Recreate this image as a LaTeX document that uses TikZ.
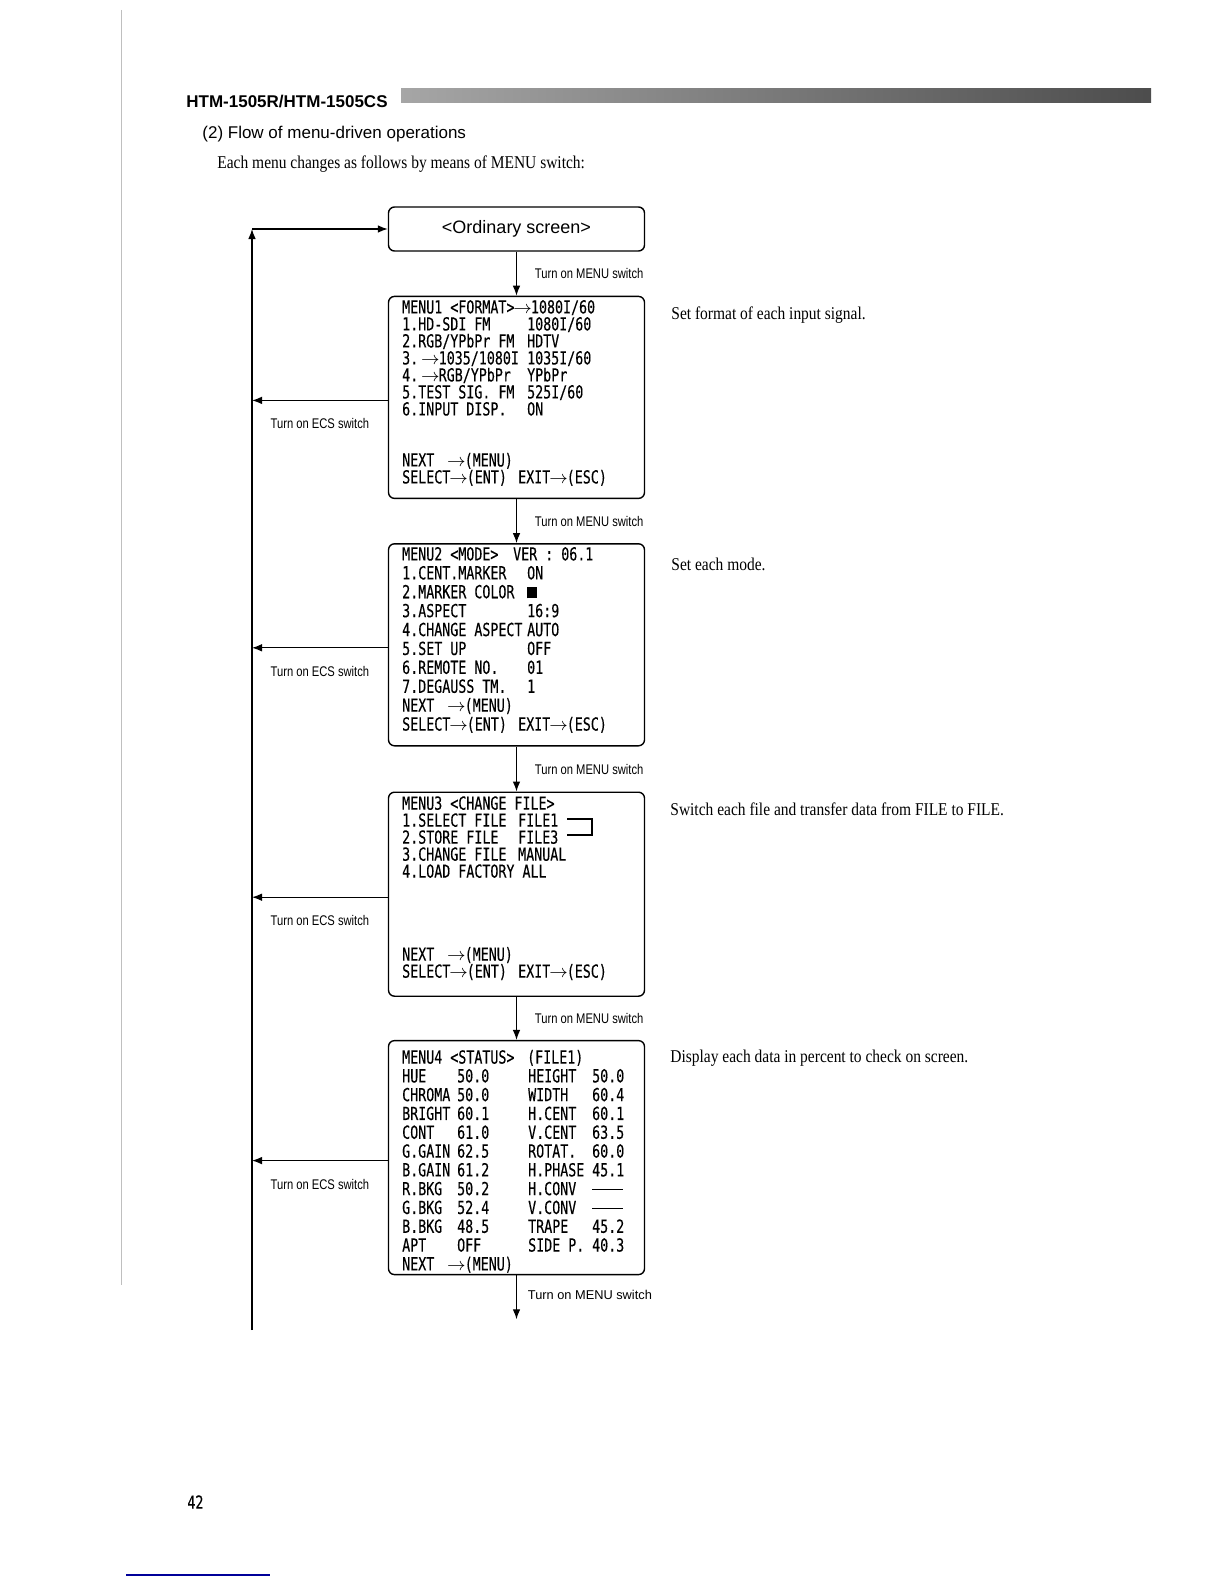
\documentclass[tikz,border=0pt]{standalone}
\usepackage{fontspec}
\setmainfont{Liberation Serif}
\usepackage{tikz}
\usetikzlibrary{arrows.meta,positioning,calc}
\newfontfamily\menufont[FakeStretch=0.74,FakeBold=0.3]{DejaVu Sans Mono}
\newfontfamily\notefont[FakeStretch=0.8]{Liberation Sans}
\newfontfamily\headfont{Liberation Sans}
\newfontfamily\scanserif[FakeStretch=0.86]{Liberation Serif}
\newcommand{\mcell}[2]{\makebox[#1][l]{#2}}
\newcommand{\mdash}{\raisebox{2.6pt}{\rule{15.5pt}{0.5pt}}}
\newcommand{\marr}{\kern-0.5pt$\rightarrow$\kern-0.5pt}

\begin{document}
\begin{tikzpicture}[
    x=0.5pt, y=-0.5pt,
    screenbox/.style={rectangle, draw, rounded corners=3pt, line width=0.7pt, minimum width=128pt, minimum height=22pt, font=\headfont\fontsize{9}{10}\selectfont},
    menubox/.style={rectangle, draw, rounded corners=3pt, line width=0.7pt, minimum width=128pt},
    menutext/.style={anchor=north west, align=left, inner sep=0pt, font=\menufont\fontsize{9}{#1}\selectfont},
    menutext/.default=8.5,
    swlabel/.style={inner sep=0pt, font=\notefont\fontsize{7}{8}\selectfont},
    note/.style={anchor=west, inner sep=0pt, font=\scanserif\fontsize{9}{10}\selectfont},
    arrow/.style={-{Latex[length=5pt,width=3.8pt]}, line width=0.6pt}
]
  \useasboundingbox (0,0) rectangle (1224,1584);

  % Page header
  \draw[black!25, line width=0.5pt] (121,10) -- (121,1285);
  \node[anchor=west, inner sep=0pt, font=\headfont\bfseries\fontsize{8.5}{10}\selectfont] (model) at (186,102) {HTM-1505R/HTM-1505CS};
  \shade[left color=black!35, right color=black!70] (401,89) rectangle (1151,103);
  \node[anchor=west, inner sep=0pt, font=\headfont\fontsize{8.5}{10}\selectfont] (title) at (202,134) {(2) Flow of menu-driven operations};
  \node[anchor=west, inner sep=0pt, font=\scanserif\fontsize{9}{10}\selectfont] (intro) at (217,164) {Each menu changes as follows by means of MENU switch:};

  % Ordinary screen
  \node[screenbox] (ordinary) at (516.5,229) {<Ordinary screen>};

  % Menu boxes
  \node[menubox, minimum height=101pt, below=22pt of ordinary] (menu1) {};
  \node[menubox, minimum height=101pt, below=22pt of menu1] (menu2) {};
  \node[menubox, minimum height=102pt, below=22.5pt of menu2] (menu3) {};
  \node[menubox, minimum height=117pt, below=21.5pt of menu3] (menu4) {};

  % Menu contents
  \node[menutext] (m1text) at ([shift={(7pt,-2pt)}]menu1.north west) {%
    MENU1 <FORMAT>\marr1080I/60\\
    \mcell{62.5pt}{1.HD-SDI FM}1080I/60\\
    \mcell{62.5pt}{2.RGB/YPbPr FM}HDTV\\
    \mcell{62.5pt}{3.\kern2pt\marr1035/1080I}1035I/60\\
    \mcell{62.5pt}{4.\kern2pt\marr RGB/YPbPr}YPbPr\\
    \mcell{62.5pt}{5.TEST SIG. FM}525I/60\\
    \mcell{62.5pt}{6.INPUT DISP.}ON\\[17pt]
    \mcell{23pt}{NEXT}\marr(MENU)\\
    \mcell{58pt}{SELECT\marr(ENT)}EXIT\marr(ESC)};
  \node[menutext=9.45] (m2text) at ([shift={(7pt,-1.8pt)}]menu2.north west) {%
    \mcell{55.5pt}{MENU2 <MODE>}VER : 06.1\\
    \mcell{62.5pt}{1.CENT.MARKER}ON\\
    \mcell{62.5pt}{2.MARKER COLOR}\rule{5pt}{5.5pt}\\
    \mcell{62.5pt}{3.ASPECT}16:9\\
    \mcell{62.5pt}{4.CHANGE ASPECT}AUTO\\
    \mcell{62.5pt}{5.SET UP}OFF\\
    \mcell{62.5pt}{6.REMOTE NO.}01\\
    \mcell{62.5pt}{7.DEGAUSS TM.}1\\
    \mcell{23pt}{NEXT}\marr(MENU)\\
    \mcell{58pt}{SELECT\marr(ENT)}EXIT\marr(ESC)};
  \node[menutext] (m3text) at ([shift={(7pt,-2.2pt)}]menu3.north west) {%
    MENU3 <CHANGE FILE>\\
    \mcell{58pt}{1.SELECT FILE}FILE1\\
    \mcell{58pt}{2.STORE FILE}FILE3\\
    \mcell{58pt}{3.CHANGE FILE}MANUAL\\
    4.LOAD FACTORY ALL\\[33pt]
    \mcell{23pt}{NEXT}\marr(MENU)\\
    \mcell{58pt}{SELECT\marr(ENT)}EXIT\marr(ESC)};
  \draw[line width=0.6pt] (567,819) -- (592,819) -- (592,835) -- (567,835);
  \node[menutext=9.4] (m4text) at ([shift={(7pt,-4.8pt)}]menu4.north west) {%
    \mcell{62.5pt}{MENU4 <STATUS>}(FILE1)\\
    \mcell{27.5pt}{HUE}\mcell{35.5pt}{50.0}\mcell{32pt}{HEIGHT}50.0\\
    \mcell{27.5pt}{CHROMA}\mcell{35.5pt}{50.0}\mcell{32pt}{WIDTH}60.4\\
    \mcell{27.5pt}{BRIGHT}\mcell{35.5pt}{60.1}\mcell{32pt}{H.CENT}60.1\\
    \mcell{27.5pt}{CONT}\mcell{35.5pt}{61.0}\mcell{32pt}{V.CENT}63.5\\
    \mcell{27.5pt}{G.GAIN}\mcell{35.5pt}{62.5}\mcell{32pt}{ROTAT.}60.0\\
    \mcell{27.5pt}{B.GAIN}\mcell{35.5pt}{61.2}\mcell{32pt}{H.PHASE}45.1\\
    \mcell{27.5pt}{R.BKG}\mcell{35.5pt}{50.2}\mcell{32pt}{H.CONV}\mdash\\
    \mcell{27.5pt}{G.BKG}\mcell{35.5pt}{52.4}\mcell{32pt}{V.CONV}\mdash\\
    \mcell{27.5pt}{B.BKG}\mcell{35.5pt}{48.5}\mcell{32pt}{TRAPE}45.2\\
    \mcell{27.5pt}{APT}\mcell{35.5pt}{OFF}\mcell{32pt}{SIDE P.}40.3\\
    \mcell{23pt}{NEXT}\marr(MENU)};

  % MENU switch arrows
  \draw[arrow] (ordinary.south) -- (menu1.north);
  \draw[arrow] (menu1.south) -- (menu2.north);
  \draw[arrow] (menu2.south) -- (menu3.north);
  \draw[arrow] (menu3.south) -- (menu4.north);
  \coordinate[below=22pt of menu4.south] (menuout);
  \draw[arrow] (menu4.south) -- (menuout);
  \coordinate (g1) at ($(ordinary.south)!.5!(menu1.north)$);
  \coordinate (g2) at ($(menu1.south)!.5!(menu2.north)$);
  \coordinate (g3) at ($(menu2.south)!.5!(menu3.north)$);
  \coordinate (g4) at ($(menu3.south)!.5!(menu4.north)$);
  \coordinate (g5) at ($(menu4.south)!.5!(menuout)$);
  \foreach \g in {1,...,4}
    \node[swlabel, anchor=west, right=9pt of g\g] (menulabel\g) {Turn on MENU switch};
  \node[anchor=west, inner sep=0pt, font=\headfont\fontsize{6.4}{7}\selectfont, right=5.5pt of g5, yshift=1pt] (menulabel5) {Turn on MENU switch};

  % ECS switch loop
  \coordinate (loopbottom) at (252,1330);
  \coordinate (loopcorner) at (ordinary.west -| loopbottom);
  \draw[arrow] (loopbottom) -- (loopcorner);
  \draw[arrow] (loopcorner) -- (ordinary.west);
  \foreach \m in {1,...,4}{
    \coordinate (ecsstart\m) at ([yshift=-1.5pt]menu\m.west);
    \coordinate (ecs\m) at (ecsstart\m -| loopbottom);
    \draw[arrow] (ecsstart\m) -- (ecs\m);
    \coordinate (ecsmid\m) at ($(ecs\m)!.5!(ecsstart\m)$);
    \node[swlabel, below=9pt of ecsmid\m] (ecslabel\m) {Turn on ECS switch};
  }

  % Notes
  \node[note] (note1) at (671,315) {Set format of each input signal.};
  \node[note] (note2) at (671,564) {Set each mode.};
  \node[note] (note3) at (670,809) {Switch each file and transfer data from FILE to FILE.};
  \node[note] (note4) at (670,1058) {Display each data in percent to check on screen.};

  % Footer
  \node[anchor=west, inner sep=0pt, font=\menufont\fontsize{9}{10}\selectfont] (pageno) at (187,1502) {42};
  \draw[blue!60!black, line width=0.6pt] (126,1575) -- (270,1575);
\end{tikzpicture}
\end{document}
